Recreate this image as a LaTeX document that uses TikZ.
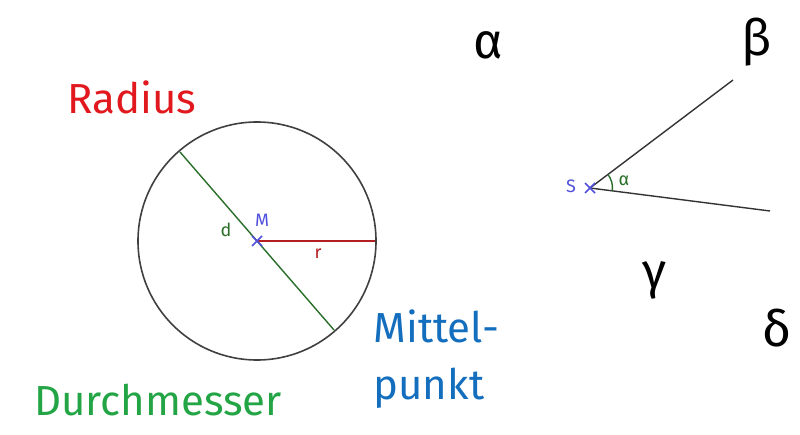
\documentclass[tikz,border=0pt]{standalone}
\usepackage{fontspec}
\setmainfont{Fira Sans}
\usetikzlibrary{calc}
\definecolor{wred}{RGB}{225,25,30}
\definecolor{wgreen}{RGB}{35,165,70}
\definecolor{wblue}{RGB}{20,110,190}
\definecolor{lblue}{RGB}{80,80,220}
\definecolor{lgreen}{RGB}{40,110,40}
\definecolor{lred}{RGB}{180,30,30}
\tikzset{
  big/.style={font=\fontsize{42}{46}\selectfont},
  greek/.style={font=\fontsize{50}{54}\selectfont},
  small/.style={font=\fontsize{18}{20}\selectfont},
}
\begin{document}
\begin{tikzpicture}[x=1pt,y=-1pt]
\useasboundingbox (0,0) rectangle (800,435);

%% Circle
\coordinate (M) at (257,241);
\draw[line width=1.6pt, black!75] (M) circle (119);
\coordinate (d1) at (180,152);
\coordinate (d2) at (334,330);
\coordinate (r1) at (375,241);
\draw[line width=1.4pt, lgreen] (d1)--(d2);
\draw[line width=1.4pt, lred] (M)--(r1);
\draw[lblue, line width=1.5pt] (252,236)--(262,246) (252,246)--(262,236);
\node[small, lblue] (mlab) at (262,220) {M};
\node[small, lgreen] (dlab) at (226,230) {d};
\node[small, lred] (rlab) at (318,254) {r};

%% Angle
\coordinate (S) at (590,188);
\coordinate (B) at (733,80);
\coordinate (C) at (770,211);
\draw[line width=1.4pt, black!80] (S)--(B);
\draw[line width=1.4pt, black!80] (S)--(C);
\draw[line width=1.4pt, lgreen] ($(S)+(-37:22.5)$) arc[start angle=-37, end angle=7, radius=22.5];
\draw[lblue, line width=1.5pt] (585,183)--(595,193) (585,193)--(595,183);
\node[small, lblue] (slab) at (571,186) {S};
\node[small, lgreen] (alab) at (624,181) {α};

%% Labels
\node[big, wred] (radius) at (132,97) {Radius};
\node[big, wgreen] (durch) at (158,400) {Durchmesser};
\node[big, wblue, anchor=west] (mittel) at (370,326) {Mittel-};
\node[big, wblue, anchor=west] (punkt) at (370,388) {punkt};
\node[greek] (alpha) at (488,45) {α};
\node[greek] (beta) at (757,42) {β};
\node[greek] (gamma) at (655,280) {γ};
\node[greek] (delta) at (777,328) {δ};
\end{tikzpicture}
\end{document}
